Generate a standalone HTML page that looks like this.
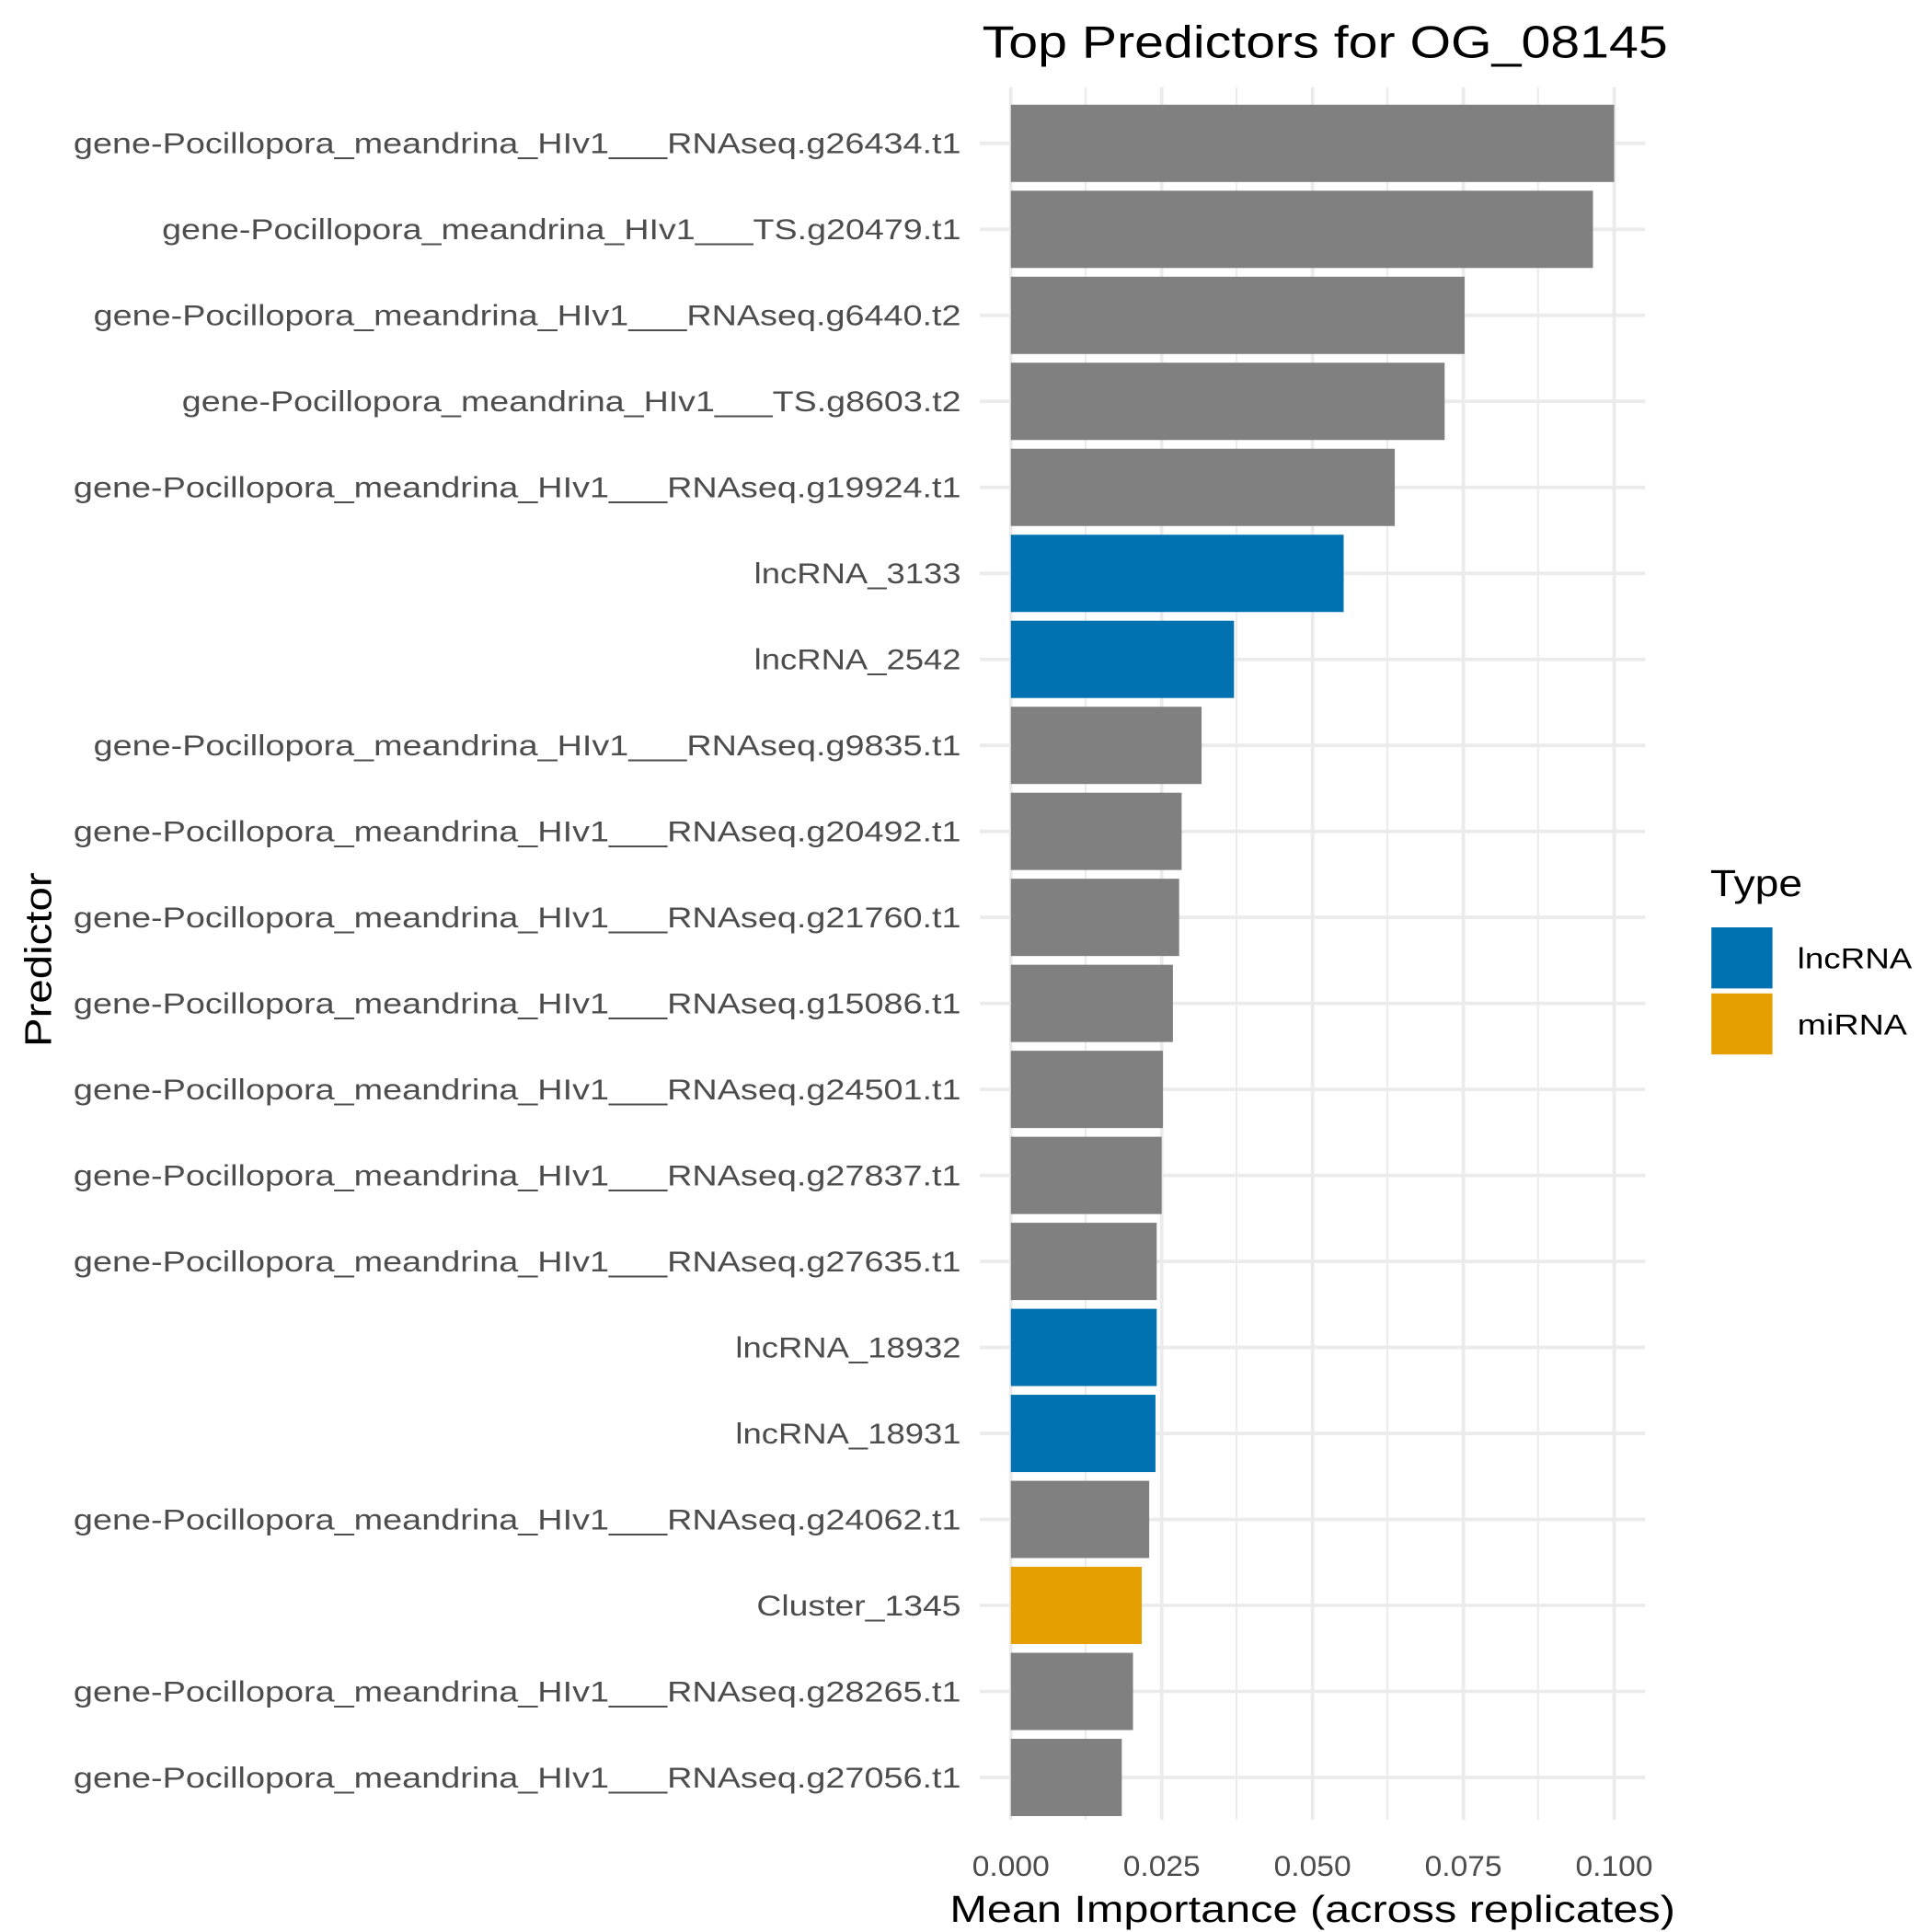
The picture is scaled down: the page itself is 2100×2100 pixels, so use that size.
<!DOCTYPE html>
<html><head><meta charset="utf-8"><style>html,body{margin:0;padding:0;background:#fff}svg{display:block}</style></head>
<body>
<svg width="2100" height="2100" viewBox="0 0 1550 1550" xmlns="http://www.w3.org/2000/svg" font-family="'Liberation Sans','DejaVu Sans',sans-serif">
<rect width="1550" height="1550" fill="#fff"/>
<g stroke="#EBEBEB">
<g stroke-width="1.5">
<line x1="871" y1="70" x2="871" y2="1460"/><line x1="992" y1="70" x2="992" y2="1460"/><line x1="1113" y1="70" x2="1113" y2="1460"/><line x1="1234" y1="70" x2="1234" y2="1460"/>
</g>
<g stroke-width="2.8">
<line x1="811" y1="70" x2="811" y2="1460"/><line x1="932" y1="70" x2="932" y2="1460"/><line x1="1053" y1="70" x2="1053" y2="1460"/><line x1="1174" y1="70" x2="1174" y2="1460"/><line x1="1295" y1="70" x2="1295" y2="1460"/>
<line x1="786" y1="115" x2="1320" y2="115"/><line x1="786" y1="184" x2="1320" y2="184"/><line x1="786" y1="253" x2="1320" y2="253"/><line x1="786" y1="322" x2="1320" y2="322"/><line x1="786" y1="391" x2="1320" y2="391"/><line x1="786" y1="460" x2="1320" y2="460"/><line x1="786" y1="529" x2="1320" y2="529"/><line x1="786" y1="598" x2="1320" y2="598"/><line x1="786" y1="667" x2="1320" y2="667"/><line x1="786" y1="736" x2="1320" y2="736"/><line x1="786" y1="805" x2="1320" y2="805"/><line x1="786" y1="874" x2="1320" y2="874"/><line x1="786" y1="943" x2="1320" y2="943"/><line x1="786" y1="1012" x2="1320" y2="1012"/><line x1="786" y1="1081" x2="1320" y2="1081"/><line x1="786" y1="1150" x2="1320" y2="1150"/><line x1="786" y1="1219" x2="1320" y2="1219"/><line x1="786" y1="1288" x2="1320" y2="1288"/><line x1="786" y1="1357" x2="1320" y2="1357"/><line x1="786" y1="1426" x2="1320" y2="1426"/>
</g></g>
<g>
<rect x="811" y="84" width="484" height="62" fill="#808080"/>
<rect x="811" y="153" width="467" height="62" fill="#808080"/>
<rect x="811" y="222" width="364" height="62" fill="#808080"/>
<rect x="811" y="291" width="348" height="62" fill="#808080"/>
<rect x="811" y="360" width="308" height="62" fill="#808080"/>
<rect x="811" y="429" width="267" height="62" fill="#0072B2"/>
<rect x="811" y="498" width="179" height="62" fill="#0072B2"/>
<rect x="811" y="567" width="153" height="62" fill="#808080"/>
<rect x="811" y="636" width="137" height="62" fill="#808080"/>
<rect x="811" y="705" width="135" height="62" fill="#808080"/>
<rect x="811" y="774" width="130" height="62" fill="#808080"/>
<rect x="811" y="843" width="122" height="62" fill="#808080"/>
<rect x="811" y="912" width="121" height="62" fill="#808080"/>
<rect x="811" y="981" width="117" height="62" fill="#808080"/>
<rect x="811" y="1050" width="117" height="62" fill="#0072B2"/>
<rect x="811" y="1119" width="116" height="62" fill="#0072B2"/>
<rect x="811" y="1188" width="111" height="62" fill="#808080"/>
<rect x="811" y="1257" width="105" height="62" fill="#E69F00"/>
<rect x="811" y="1326" width="98" height="62" fill="#808080"/>
<rect x="811" y="1395" width="89" height="62" fill="#808080"/>
</g>
<g fill="#4D4D4D" font-size="23" text-anchor="end">
<text x="771" y="123" textLength="712" lengthAdjust="spacingAndGlyphs">gene-Pocillopora_meandrina_HIv1___RNAseq.g26434.t1</text>
<text x="771" y="192" textLength="641" lengthAdjust="spacingAndGlyphs">gene-Pocillopora_meandrina_HIv1___TS.g20479.t1</text>
<text x="771" y="261" textLength="696" lengthAdjust="spacingAndGlyphs">gene-Pocillopora_meandrina_HIv1___RNAseq.g6440.t2</text>
<text x="771" y="330" textLength="625" lengthAdjust="spacingAndGlyphs">gene-Pocillopora_meandrina_HIv1___TS.g8603.t2</text>
<text x="771" y="399" textLength="712" lengthAdjust="spacingAndGlyphs">gene-Pocillopora_meandrina_HIv1___RNAseq.g19924.t1</text>
<text x="771" y="468" textLength="166" lengthAdjust="spacingAndGlyphs">lncRNA_3133</text>
<text x="771" y="537" textLength="166" lengthAdjust="spacingAndGlyphs">lncRNA_2542</text>
<text x="771" y="606" textLength="696" lengthAdjust="spacingAndGlyphs">gene-Pocillopora_meandrina_HIv1___RNAseq.g9835.t1</text>
<text x="771" y="675" textLength="712" lengthAdjust="spacingAndGlyphs">gene-Pocillopora_meandrina_HIv1___RNAseq.g20492.t1</text>
<text x="771" y="744" textLength="712" lengthAdjust="spacingAndGlyphs">gene-Pocillopora_meandrina_HIv1___RNAseq.g21760.t1</text>
<text x="771" y="813" textLength="712" lengthAdjust="spacingAndGlyphs">gene-Pocillopora_meandrina_HIv1___RNAseq.g15086.t1</text>
<text x="771" y="882" textLength="712" lengthAdjust="spacingAndGlyphs">gene-Pocillopora_meandrina_HIv1___RNAseq.g24501.t1</text>
<text x="771" y="951" textLength="712" lengthAdjust="spacingAndGlyphs">gene-Pocillopora_meandrina_HIv1___RNAseq.g27837.t1</text>
<text x="771" y="1020" textLength="712" lengthAdjust="spacingAndGlyphs">gene-Pocillopora_meandrina_HIv1___RNAseq.g27635.t1</text>
<text x="771" y="1089" textLength="181" lengthAdjust="spacingAndGlyphs">lncRNA_18932</text>
<text x="771" y="1158" textLength="181" lengthAdjust="spacingAndGlyphs">lncRNA_18931</text>
<text x="771" y="1227" textLength="712" lengthAdjust="spacingAndGlyphs">gene-Pocillopora_meandrina_HIv1___RNAseq.g24062.t1</text>
<text x="771" y="1296" textLength="164" lengthAdjust="spacingAndGlyphs">Cluster_1345</text>
<text x="771" y="1365" textLength="712" lengthAdjust="spacingAndGlyphs">gene-Pocillopora_meandrina_HIv1___RNAseq.g28265.t1</text>
<text x="771" y="1434" textLength="712" lengthAdjust="spacingAndGlyphs">gene-Pocillopora_meandrina_HIv1___RNAseq.g27056.t1</text>
</g>
<g fill="#4D4D4D" font-size="23" text-anchor="middle">
<text x="811" y="1505" textLength="62" lengthAdjust="spacingAndGlyphs">0.000</text><text x="932" y="1505" textLength="62" lengthAdjust="spacingAndGlyphs">0.025</text><text x="1053" y="1505" textLength="62" lengthAdjust="spacingAndGlyphs">0.050</text><text x="1174" y="1505" textLength="62" lengthAdjust="spacingAndGlyphs">0.075</text><text x="1295" y="1505" textLength="62" lengthAdjust="spacingAndGlyphs">0.100</text>
</g>
<text x="1053" y="1542" font-size="30" text-anchor="middle" fill="#000" textLength="582" lengthAdjust="spacingAndGlyphs">Mean Importance (across replicates)</text>
<text x="1063" y="46" font-size="36" text-anchor="middle" fill="#000" textLength="550" lengthAdjust="spacingAndGlyphs">Top Predictors for OG_08145</text>
<text transform="translate(41,770) rotate(-90)" font-size="30" text-anchor="middle" fill="#000" textLength="140" lengthAdjust="spacingAndGlyphs">Predictor</text>
<text x="1372" y="719" font-size="30" fill="#000" textLength="74" lengthAdjust="spacingAndGlyphs">Type</text>
<rect x="1373" y="744" width="49" height="49" fill="#0072B2"/>
<rect x="1373" y="797" width="49" height="49" fill="#E69F00"/>
<text x="1442" y="777" font-size="23" fill="#000" textLength="92" lengthAdjust="spacingAndGlyphs">lncRNA</text>
<text x="1442" y="830" font-size="23" fill="#000" textLength="88" lengthAdjust="spacingAndGlyphs">miRNA</text>
</svg>
</body></html>
